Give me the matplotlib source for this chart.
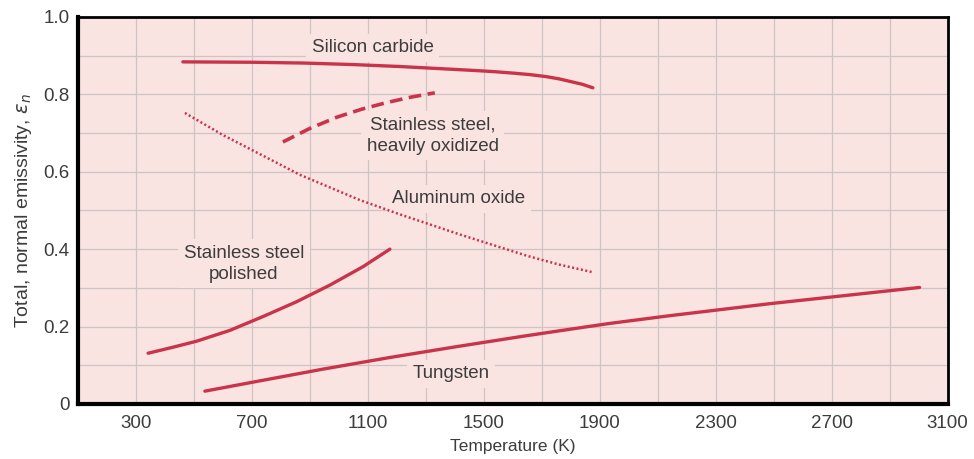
import numpy as np
import matplotlib.pyplot as plt

# curves (temperature in K, total normal emissivity)
sic_T = [462, 700, 876, 1050, 1210, 1462, 1530, 1600, 1660, 1714, 1760, 1800,
         1840, 1876]
sic_e = [0.884, 0.883, 0.881, 0.877, 0.872, 0.862, 0.859, 0.855, 0.851, 0.846,
         0.840, 0.833, 0.826, 0.817]

ss_ox_T = [807, 900, 993, 1080, 1166, 1250, 1331]
ss_ox_e = [0.677, 0.712, 0.741, 0.762, 0.779, 0.793, 0.804]

al2o3_T = [469, 600, 750, 866, 1072, 1210, 1417, 1648, 1760, 1872]
al2o3_e = [0.752, 0.695, 0.637, 0.592, 0.527, 0.490, 0.438, 0.383, 0.360, 0.341]

ss_pol_T = [342, 425, 509, 624, 739, 854, 969, 1084, 1176]
ss_pol_e = [0.131, 0.146, 0.162, 0.190, 0.226, 0.264, 0.307, 0.355, 0.400]

w_T = [538, 716, 946, 1176, 1406, 1636, 1797, 1934, 2141, 2486, 2831, 3003]
w_e = [0.033, 0.058, 0.090, 0.120, 0.148, 0.175, 0.193, 0.208, 0.228, 0.259,
       0.287, 0.301]

xticks = [300, 700, 1100, 1500, 1900, 2300, 2700, 3100]
yticks = [0, 0.2, 0.4, 0.6, 0.8, 1.0]
ytick_labels = ['0', '0.2', '0.4', '0.6', '0.8', '1.0']

bg = '#f9e4e2'
red = '#c9344b'
txt = '#3c3c3c'

plt.rcParams['font.family'] = ['Liberation Sans', 'DejaVu Sans']

fig = plt.figure(figsize=(9.74, 4.59), dpi=100)
ax = fig.add_axes([0.080, 0.120, 0.893, 0.843])
ax.set_facecolor(bg)

ax.plot(sic_T, sic_e, color=red, lw=2.4, solid_capstyle='round', zorder=3)
ax.plot(ss_ox_T, ss_ox_e, color=red, lw=2.6, dashes=(3.5, 1.8), zorder=3)
ax.plot(al2o3_T, al2o3_e, color=red, lw=1.8, dashes=(0.8, 1.0), zorder=3)
ax.plot(ss_pol_T, ss_pol_e, color=red, lw=2.4, solid_capstyle='round', zorder=3)
ax.plot(w_T, w_e, color=red, lw=2.4, solid_capstyle='round', zorder=3)

# label boxes hide the grid but sit under the curves
box = dict(facecolor=bg, edgecolor='none', pad=4)
kw = dict(fontsize=13.5, color=txt, ha='center', va='center', bbox=box,
          zorder=2)
ax.text(1117, 0.92, 'Silicon carbide', **kw)
ax.text(1324, 0.693, 'Stainless steel,\nheavily oxidized', linespacing=1.28, **kw)
ax.text(1414, 0.53, 'Aluminum oxide', **kw)
ax.text(672, 0.362, 'Stainless steel\npolished', linespacing=1.28, **kw)
ax.text(1386, 0.078, 'Tungsten', **kw)

ax.set_xlim(100, 3100)
ax.set_ylim(0, 1.0)
ax.set_xticks(np.arange(100, 3101, 200), minor=True)
ax.set_yticks(np.arange(0, 1.01, 0.1), minor=True)
ax.set_xticks(xticks)
ax.set_xticklabels([str(t) for t in xticks])
ax.set_yticks(yticks)
ax.set_yticklabels(ytick_labels)
ax.grid(True, which='both', color='#cfc3c3', lw=0.9)
ax.set_axisbelow(True)
ax.tick_params(which='both', length=0, labelsize=13.5, labelcolor=txt)
ax.tick_params(axis='x', pad=8)
ax.tick_params(axis='y', pad=6)

for s in ['left', 'bottom']:
    ax.spines[s].set_linewidth(3.0)
for s in ['top', 'right']:
    ax.spines[s].set_linewidth(2.0)

ax.set_xlabel('Temperature (K)', fontsize=12.5, color=txt, labelpad=5)
ax.set_ylabel(r'Total, normal emissivity, $\varepsilon_n$', fontsize=14,
              color=txt, labelpad=7)

fig.savefig('out.png', dpi=100)
